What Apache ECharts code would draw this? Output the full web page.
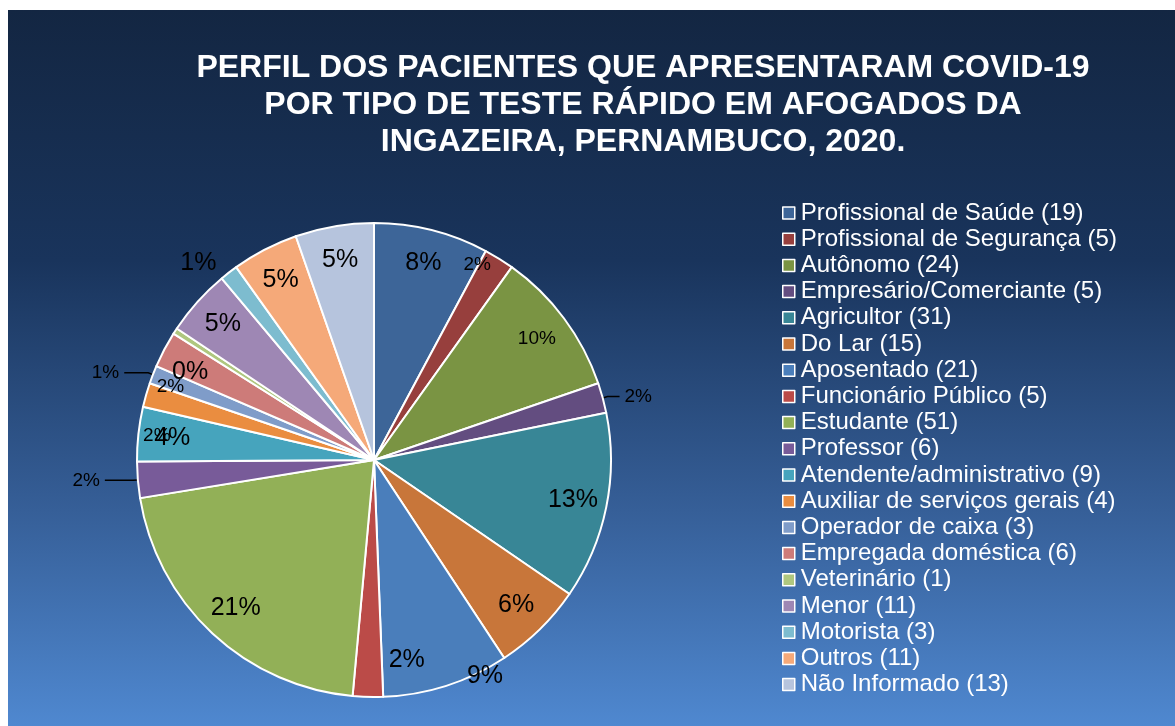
<!DOCTYPE html>
<html>
<head>
<meta charset="utf-8">
<script src="https://cdn.jsdelivr.net/npm/echarts@6/dist/echarts.min.js"></script>
<style>
  html, body { margin: 0; padding: 0; background: #fff; }
  #chart { position: absolute; left: 8px; top: 10px; width: 1167px; height: 716px; }
</style>
</head>
<body>
<div id="chart"></div>
<script>
const categories = [
  'Profissional de Saúde', 'Profissional de Segurança', 'Autônomo', 'Empresário/Comerciante',
  'Agricultor', 'Do Lar', 'Aposentado', 'Funcionário Público', 'Estudante', 'Professor',
  'Atendente/administrativo', 'Auxiliar de serviços gerais', 'Operador de caixa',
  'Empregada doméstica', 'Veterinário', 'Menor', 'Motorista', 'Outros', 'Não Informado'
];
const counts = [19, 5, 24, 5, 31, 15, 21, 5, 51, 6, 9, 4, 3, 6, 1, 11, 3, 11, 13];

const titleLines = [
  'PERFIL DOS PACIENTES QUE APRESENTARAM COVID-19',
  'POR TIPO DE TESTE RÁPIDO EM AFOGADOS DA',
  'INGAZEIRA, PERNAMBUCO, 2020.'
];

// slice colours (Excel style palette)
const colors = [
  '#3d6598', '#973f3d', '#7a9443', '#634d80', '#388696', '#c8763a', '#4a7ebb',
  '#bb4b48', '#92b057', '#785b99', '#46a4bd', '#ea8d40', '#7f9cc9', '#cd7b79',
  '#afc77f', '#9e87b4', '#7dbccf', '#f5a979', '#b6c4dd'
];

// label tweaks: which ones sit outside, which are drawn smaller
const smallLabels = ['Profissional de Segurança', 'Autônomo', 'Empresário/Comerciante',
  'Professor', 'Operador de caixa', 'Auxiliar de serviços gerais', 'Empregada doméstica'];
const lineStyle = { color: '#000', width: 1.5 };
const labelTweaks = {
  'Empresário/Comerciante': { position: 'outside', line: { show: true, length: 5, length2: 12, lineStyle } },
  'Professor': { position: 'outside', line: { show: true, length: 5, length2: 28, lineStyle } },
  'Operador de caixa': { position: 'outside', line: { show: true, length: 5, length2: 24, lineStyle } },
  'Motorista': { position: 'outside', line: { show: false, length: 12, length2: 0 } },
  'Veterinário': { position: 'outside', line: { show: false, length: 0, length2: 0 } }
};
// labels nudged off their default spot, as in the original
const labelShifts = {
  'Veterinário': { dx: 38, dy: 41 },
  'Empregada doméstica': { dx: -24, dy: 21 },
  'Auxiliar de serviços gerais': { dx: -22, dy: 31 },
  'Funcionário Público': { dx: 38, dy: -3 },
  'Aposentado': { dx: 49, dy: 23 },
  'Profissional de Segurança': { dx: -4, dy: -23 }
};

const font = 'Liberation Sans, Arial, sans-serif';
const chart = echarts.init(document.getElementById('chart'));

const pieData = categories.map((name, i) => ({
  name: name,
  value: counts[i],
  itemStyle: { color: colors[i] }
}));

const labelData = categories.map((name, i) => {
  const item = { name: name, value: counts[i], itemStyle: { color: 'transparent', borderWidth: 0 } };
  item.label = { fontSize: smallLabels.includes(name) ? 19 : 25 };
  const t = labelTweaks[name];
  if (t) {
    item.label.position = t.position;
    item.labelLine = t.line;
  }
  return item;
});

chart.setOption({
  backgroundColor: {
    type: 'linear', x: 0, y: 0, x2: 0, y2: 1,
    colorStops: [
      { offset: 0, color: '#132642' },
      { offset: 0.35, color: '#19345c' },
      { offset: 0.7, color: '#365f98' },
      { offset: 1, color: '#4f88d0' }
    ]
  },
  color: colors,
  title: {
    text: titleLines.join('\n'),
    left: 630,
    top: 35,
    textAlign: 'center',
    textStyle: {
      color: '#fff', fontFamily: font, fontWeight: 'bold', fontSize: 32, lineHeight: 37
    }
  },
  legend: {
    orient: 'vertical',
    left: 769,
    top: 186,
    icon: 'rect',
    itemWidth: 12,
    itemHeight: 12,
    itemGap: 2.2,
    data: categories,
    itemStyle: { borderColor: '#fff', borderWidth: 1.5 },
    formatter: name => name + ' (' + counts[categories.indexOf(name)] + ')',
    textStyle: { color: '#fff', fontFamily: font, fontSize: 24, padding: [0, 0, 0, 1] }
  },
  series: [
    {
      type: 'pie',
      center: [366, 450],
      radius: [0, 237],
      startAngle: 90,
      clockwise: true,
      silent: true,
      itemStyle: { borderColor: '#fff', borderWidth: 2 },
      label: { show: false },
      labelLine: { show: false },
      data: pieData
    },
    {
      type: 'pie',
      center: [366, 450],
      radius: [163, 237],
      startAngle: 90,
      clockwise: true,
      silent: true,
      avoidLabelOverlap: false,
      legendHoverLink: false,
      label: {
        show: true,
        position: 'inside',
        color: '#000',
        fontFamily: font,
        fontSize: 25,
        formatter: p => Math.round(p.percent) + '%'
      },
      labelLine: { show: false },
      labelLayout: p => labelShifts[categories[p.dataIndex]] || {},
      data: labelData
    }
  ]
});
</script>
</body>
</html>
